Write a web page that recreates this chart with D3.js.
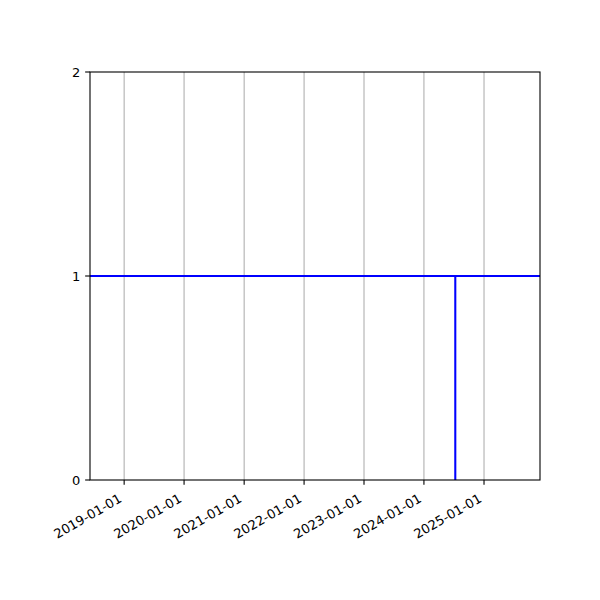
<!DOCTYPE html>
<html>
<head>
<meta charset="utf-8">
<script src="https://cdn.jsdelivr.net/npm/d3@7"></script>
<style>
  body { margin: 0; background: #fff; }
  svg { display: block; }
  text { font-family: "DejaVu Sans", sans-serif; font-size: 13px; fill: #000; }
</style>
</head>
<body>
<div id="chart"></div>
<script>
// Axis extent (dates) and ticks
const xDomain = ["2018-06-07", "2025-12-08"];
const xTicks = ["2019-01-01", "2020-01-01", "2021-01-01", "2022-01-01", "2023-01-01", "2024-01-01", "2025-01-01"];
const yTicks = [0, 1, 2];

// Horizontal line across the whole axis at y = 1
const hDates = ["2018-06-07", "2025-12-08"];
const hValues = [1, 1];

// Vertical line at one date from 0 to 1
const vDates = ["2024-07-10", "2024-07-10"];
const vValues = [0, 1];

const parse = d3.utcParse("%Y-%m-%d");

const width = 600;
const height = 600;
const margin = { top: 72, right: 60, bottom: 120, left: 90 };

const svg = d3.select('#chart')
    .append('svg')
    .attr('width', width)
    .attr('height', height);

const x = d3.scaleUtc()
    .domain(xDomain.map(parse))
    .range([margin.left, width - margin.right]);

const y = d3.scaleLinear()
    .domain([0, 2])
    .range([height - margin.bottom, margin.top]);

const tickLen = 4.86;
const pad = 4.86;

// Vertical grid lines
svg.append('g')
    .selectAll('line')
    .data(xTicks.map(parse))
    .join('line')
    .attr('x1', d => x(d))
    .attr('x2', d => x(d))
    .attr('y1', y(0))
    .attr('y2', y(2))
    .attr('stroke', '#b0b0b0')
    .attr('stroke-width', 1.1);

// Data lines
const line = d3.line()
    .x(d => x(d[0]))
    .y(d => y(d[1]));

const series = [
    d3.zip(hDates.map(parse), hValues),
    d3.zip(vDates.map(parse), vValues)
];

svg.append('g')
    .selectAll('path')
    .data(series)
    .join('path')
    .attr('d', line)
    .attr('fill', 'none')
    .attr('stroke', '#0000ff')
    .attr('stroke-width', 2.08);

// Frame
svg.append('rect')
    .attr('x', margin.left)
    .attr('y', margin.top)
    .attr('width', width - margin.left - margin.right)
    .attr('height', height - margin.top - margin.bottom)
    .attr('fill', 'none')
    .attr('stroke', '#000')
    .attr('stroke-width', 1.1);

// X ticks and rotated labels
const xt = svg.append('g')
    .selectAll('g')
    .data(xTicks)
    .join('g')
    .attr('transform', d => `translate(${x(parse(d))},${y(0)})`);

xt.append('line')
    .attr('y2', tickLen)
    .attr('stroke', '#000')
    .attr('stroke-width', 1.1);

xt.append('text')
    .attr('transform', `translate(0,${tickLen + pad + 2}) rotate(-30)`)
    .attr('x', -6)
    .attr('y', 7.5)
    .attr('text-anchor', 'end')
    .text(d => d);

// Y ticks and labels
const yt = svg.append('g')
    .selectAll('g')
    .data(yTicks)
    .join('g')
    .attr('transform', d => `translate(${margin.left},${y(d)})`);

yt.append('line')
    .attr('x2', -tickLen)
    .attr('stroke', '#000')
    .attr('stroke-width', 1.1);

yt.append('text')
    .attr('x', -tickLen - pad)
    .attr('dy', '0.35em')
    .attr('text-anchor', 'end')
    .text(d => d);
</script>
</body>
</html>
